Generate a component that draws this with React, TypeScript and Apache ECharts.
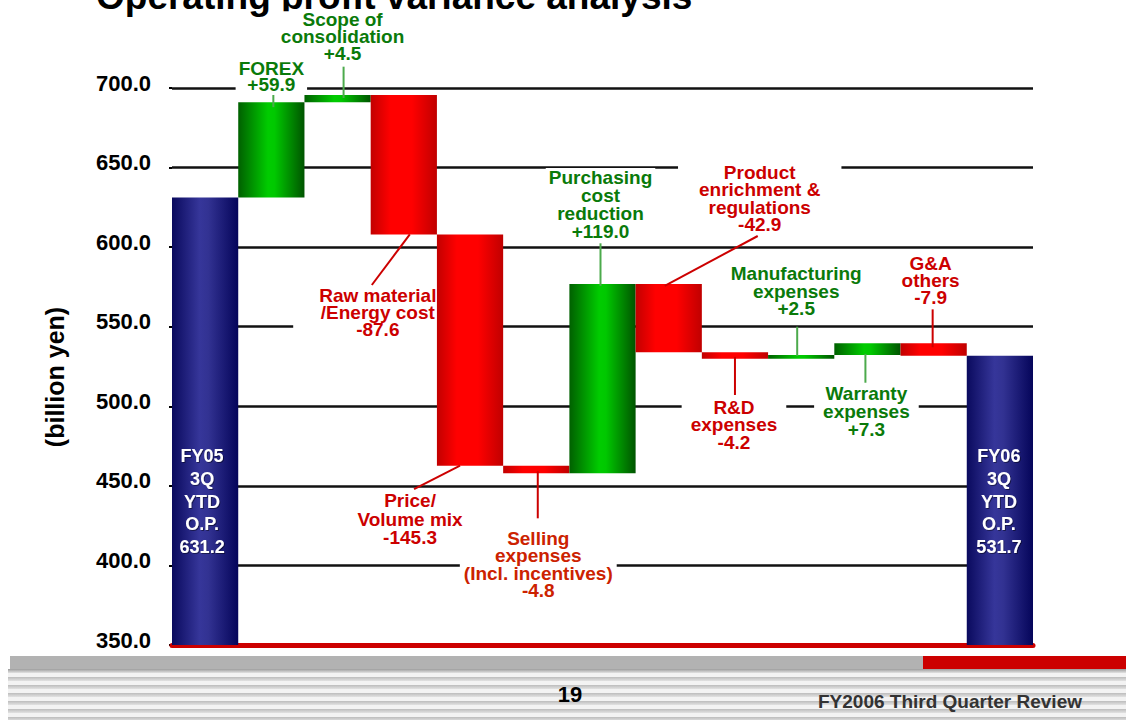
import React, { useEffect, useRef } from "react";
import * as echarts from "echarts";

// ---------- data ----------
const categories = [
  "FY05 3Q YTD O.P.",
  "FOREX",
  "Scope of consolidation",
  "Raw material /Energy cost",
  "Price/Volume mix",
  "Selling expenses (Incl. incentives)",
  "Purchasing cost reduction",
  "Product enrichment & regulations",
  "R&D expenses",
  "Manufacturing expenses",
  "Warranty expenses",
  "G&A others",
  "FY06 3Q YTD O.P.",
];
const labelLines: string[][] = [
  ["FY05", "3Q", "YTD", "O.P."],
  ["FOREX"],
  ["Scope of", "consolidation"],
  ["Raw material", "/Energy cost"],
  ["Price/", "Volume mix"],
  ["Selling", "expenses", "(Incl. incentives)"],
  ["Purchasing", "cost", "reduction"],
  ["Product", "enrichment &", "regulations"],
  ["R&D", "expenses"],
  ["Manufacturing", "expenses"],
  ["Warranty", "expenses"],
  ["G&A", "others"],
  ["FY06", "3Q", "YTD", "O.P."],
];
const deltas = [631.2, 59.9, 4.5, -87.6, -145.3, -4.8, 119.0, -42.9, -4.2, 2.5, 7.3, -7.9, 531.7];
const totalFlags = [true, false, false, false, false, false, false, false, false, false, false, false, true];
const yMin = 350;
const yMax = 700;
const yInterval = 50;

// ---------- layout (label placement, not data) ----------
type Ann = {
  i: number; tx: number; ty: number; lh: number; edge: "top" | "bottom";
  bx: number; ex: number; ey: number; inset: number; pad: number[]; color?: string;
};
const annotationLayout: Ann[] = [
  { i: 1, tx: 0, ty: 717.1, lh: 16, edge: "top", bx: 2, ex: 2, ey: 695.6, inset: 5, pad: [0, 3, 0, 3] },
  { i: 2, tx: 5, ty: 748.2, lh: 17, edge: "top", bx: 6, ex: 6, ey: 713.4, inset: 3, pad: [0, 3, 0, 3] },
  { i: 3, tx: -26, ty: 575.0, lh: 17, edge: "bottom", bx: 6, ex: -32, ey: 576.2, inset: 0, pad: [0, 3, 0, 26] },
  { i: 4, tx: -60, ty: 446.4, lh: 18.5, edge: "bottom", bx: -10, ex: -56, ey: 448.0, inset: 0, pad: [0, 3, 0, 3] },
  { i: 5, tx: 2, ty: 422.7, lh: 17.5, edge: "bottom", bx: 1.5, ex: 1.5, ey: 429.6, inset: 2, pad: [0, 4, 0, 4], color: "#cc2200" },
  { i: 6, tx: -2, ty: 649.8, lh: 18.3, edge: "top", bx: -2, ex: -2, ey: 602.4, inset: 2, pad: [0, 3, 0, 3] },
  { i: 7, tx: 91, ty: 652.7, lh: 17.6, edge: "top", bx: -4, ex: 89, ey: 607.0, inset: 2, pad: [2, 21, 0, 21] },
  { i: 8, tx: -1, ty: 505.0, lh: 17.5, edge: "bottom", bx: 0, ex: 0, ey: 507.1, inset: 2, pad: [1, 9, 0, 9] },
  { i: 9, tx: -5, ty: 588.8, lh: 17.5, edge: "top", bx: -4, ex: -4, ey: 550.0, inset: 1, pad: [0, 3, 0, 3] },
  { i: 10, tx: -1, ty: 513.5, lh: 18, edge: "bottom", bx: -2, ex: -2, ey: 514.8, inset: 1, pad: [1, 9, 0, 9] },
  { i: 11, tx: -3, ty: 594.9, lh: 17, edge: "top", bx: -1, ex: -1, ey: 560.9, inset: 4, pad: [0, 3, 0, 3] },
];

const FONT = '"Liberation Sans", Arial, Helvetica, sans-serif';
const GREEN_TEXT = "#0a7a0a";
const RED_TEXT = "#cc0000";

function buildOption() {
  // running totals
  const cum: number[] = [];
  deltas.forEach((d, i) => {
    if (totalFlags[i]) cum.push(d);
    else cum.push(cum[i - 1] + d);
  });
  const startOf = (i: number) => (totalFlags[i] ? 0 : cum[i - 1]);
  const endOf = (i: number) => cum[i];

  const H = (stops: [number, string][]) =>
    new echarts.graphic.LinearGradient(0, 0, 1, 0, stops.map(([offset, color]) => ({ offset, color })));
  const blue = () => H([[0, "#0a0a5e"], [0.42, "#36369a"], [0.55, "#323292"], [1, "#05055a"]]);
  const green = () => H([[0, "#006000"], [0.45, "#00cc00"], [0.55, "#00c800"], [1, "#005400"]]);
  const red = () => H([[0, "#c20000"], [0.3, "#ff0000"], [0.62, "#ff0000"], [1, "#c00000"]]);

  const bases = deltas.map((d, i) => (totalFlags[i] ? 0 : Math.min(startOf(i), endOf(i))));
  const bars = deltas.map((d, i) => {
    if (totalFlags[i]) {
      return {
        value: d,
        itemStyle: { color: blue() },
        label: {
          show: true,
          position: "insideBottom",
          distance: 87,
          offset: [i === 0 ? -3 : -1, 0],
          formatter: [...labelLines[i], d.toFixed(1)].join("\n"),
          color: "#ffffff",
          fontFamily: FONT,
          fontWeight: "bold",
          fontSize: 18,
          lineHeight: 22.6,
          textShadowColor: "rgba(0,0,0,0.45)",
          textShadowOffsetX: 1,
          textShadowOffsetY: 1,
          textShadowBlur: 1,
        },
      };
    }
    return { value: Math.abs(d), itemStyle: { color: d >= 0 ? green() : red() } };
  });

  const textItem = (params: any, api: any) => {
    const a = annotationLayout[params.dataIndex];
    const d = deltas[a.i];
    const cx = api.coord([a.i, 0])[0];
    const top = api.coord([a.i, a.ty])[1];
    const [pt, pr, pb, pl] = a.pad;
    const text = [...labelLines[a.i], (d > 0 ? "+" : "") + d.toFixed(1)].join("\n");
    const color = a.color || (d >= 0 ? GREEN_TEXT : RED_TEXT);
    return {
      type: "text",
      x: cx + a.tx - (pl - pr) / 2,
      y: top - pt,
      style: {
        text,
        fill: color,
        fontFamily: FONT,
        fontWeight: "bold",
        fontSize: 19,
        lineHeight: a.lh,
        align: "center",
        verticalAlign: "top",
        backgroundColor: "#ffffff",
        padding: [pt, pr, pb, pl],
      },
    };
  };

  const leaderItem = (params: any, api: any) => {
    const a = annotationLayout[params.dataIndex];
    const d = deltas[a.i];
    const cx = api.coord([a.i, 0])[0];
    const s = startOf(a.i);
    const e = endOf(a.i);
    const edgeVal = a.edge === "top" ? Math.max(s, e) : Math.min(s, e);
    const yb = api.coord([a.i, edgeVal])[1] + (a.edge === "top" ? a.inset : -a.inset);
    const ye = api.coord([a.i, a.ey])[1];
    return {
      type: "line",
      shape: { x1: cx + a.bx, y1: yb, x2: cx + a.ex, y2: ye },
      style: { stroke: d >= 0 ? "#4caa4c" : "#cc0000", lineWidth: 2 },
    };
  };

  const stripes: any[] = [];
  for (let k = 0; k < 7; k++) {
    stripes.push({
      type: "rect",
      shape: { x: 8, y: 669 + k * 8, width: 1118, height: 4 },
      style: {
        fill: new echarts.graphic.LinearGradient(0, 0, 0, 1, [
          { offset: 0, color: k === 0 ? "#9c9c9c" : "#bcbcbc" },
          { offset: 1, color: "#e2e2e2" },
        ]),
      },
      silent: true,
    });
  }

  return {
    animation: false,
    backgroundColor: "#ffffff",
    grid: { left: 172, right: 93, top: 88, bottom: 75, containLabel: false },
    xAxis: {
      type: "category",
      data: categories,
      z: 1,
      axisLine: { show: true, lineStyle: { color: "#cc0000", width: 5 } },
      axisTick: { show: false },
      axisLabel: { show: false },
      splitLine: { show: false },
    },
    yAxis: {
      type: "value",
      min: yMin,
      max: yMax,
      interval: yInterval,
      axisLine: { show: false },
      axisTick: { show: true, length: 3, lineStyle: { color: "#000", width: 2 } },
      axisLabel: {
        color: "#000",
        fontFamily: FONT,
        fontWeight: "bold",
        fontSize: 22,
        margin: 21,
        verticalAlign: "bottom",
        lineHeight: 22,
        padding: [0, 0, -6, 0],
        formatter: (v: number) => v.toFixed(1),
      },
      splitLine: {
        show: true,
        lineStyle: { color: "#111", width: 2.5 },
      },
    },
    graphic: [
      {
        type: "text",
        x: 96,
        y: -4,
        style: {
          text: "Operating profit variance analysis",
          fill: "#000",
          fontFamily: FONT,
          fontWeight: "bold",
          fontSize: 37,
          align: "left",
          verticalAlign: "middle",
        },
      },
      {
        type: "text",
        x: 55,
        y: 377,
        rotation: Math.PI / 2,
        style: {
          text: "(billion yen)",
          fill: "#000",
          fontFamily: FONT,
          fontWeight: "bold",
          fontSize: 25,
          align: "center",
          verticalAlign: "middle",
        },
      },
      { type: "rect", shape: { x: 8, y: 669, width: 1118, height: 51 }, style: { fill: "#f3f3f3" }, silent: true },
      ...stripes,
      { type: "rect", shape: { x: 10, y: 656, width: 913, height: 13 }, style: { fill: "#b2b2b2" }, silent: true },
      { type: "rect", shape: { x: 923, y: 656, width: 203, height: 13 }, style: { fill: "#cc0000" }, silent: true },
      {
        type: "text",
        x: 570,
        y: 694,
        style: {
          text: "19",
          fill: "#000",
          fontFamily: FONT,
          fontWeight: "bold",
          fontSize: 22,
          align: "center",
          verticalAlign: "middle",
        },
      },
      {
        type: "text",
        x: 818,
        y: 701.5,
        style: {
          text: "FY2006 Third Quarter Review",
          fill: "#333",
          fontFamily: FONT,
          fontWeight: "bold",
          fontSize: 19,
          align: "left",
          verticalAlign: "middle",
        },
      },
    ],
    series: [
      {
        type: "bar",
        stack: "waterfall",
        data: bases,
        barCategoryGap: "0%",
        itemStyle: { color: "rgba(0,0,0,0)" },
        silent: true,
        z: 2,
      },
      {
        type: "bar",
        stack: "waterfall",
        data: bars,
        barCategoryGap: "0%",
        z: 2,
      },
      {
        type: "custom",
        coordinateSystem: "cartesian2d",
        renderItem: textItem,
        data: annotationLayout.map((a) => [a.i, a.ty]),
        encode: { x: 0, y: 1 },
        z: 1,
        silent: true,
      },
      {
        type: "custom",
        coordinateSystem: "cartesian2d",
        renderItem: leaderItem,
        data: annotationLayout.map((a) => [a.i, a.ey]),
        encode: { x: 0, y: 1 },
        z: 3,
        silent: true,
      },
    ],
  };
}

export default function App() {
  const ref = useRef<HTMLDivElement>(null);
  useEffect(() => {
    if (!ref.current) return;
    const chart = echarts.init(ref.current, null, { renderer: "svg" });
    chart.setOption(buildOption() as any);
    return () => chart.dispose();
  }, []);
  return (
    <div
      ref={ref}
      style={{ position: "fixed", left: 0, top: 0, width: 1126, height: 720, background: "#fff" }}
    />
  );
}
